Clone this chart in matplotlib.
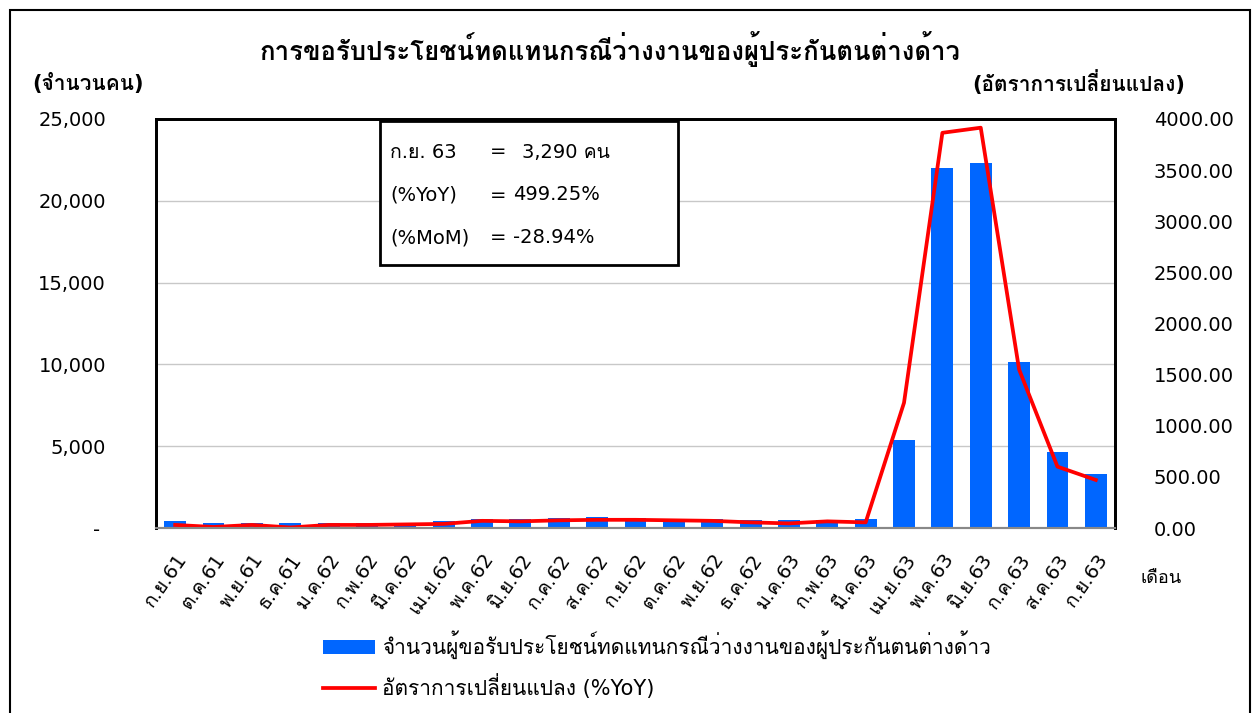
import numpy as np
import matplotlib
matplotlib.use("Agg")
import matplotlib.pyplot as plt
from matplotlib.patches import Rectangle

# Latin glyphs from DejaVu, Thai glyphs fall back to Loma
plt.rcParams['font.family'] = ['DejaVu Sans', 'Loma']

months = ['ก.ย.61', 'ต.ค.61', 'พ.ย.61', 'ธ.ค.61', 'ม.ค.62', 'ก.พ.62', 'มี.ค.62',
          'เม.ย.62', 'พ.ค.62', 'มิ.ย.62', 'ก.ค.62', 'ส.ค.62', 'ก.ย.62', 'ต.ค.62',
          'พ.ย.62', 'ธ.ค.62', 'ม.ค.63', 'ก.พ.63', 'มี.ค.63', 'เม.ย.63', 'พ.ค.63',
          'มิ.ย.63', 'ก.ค.63', 'ส.ค.63', 'ก.ย.63']
claimants = [420, 320, 320, 330, 320, 320, 330, 400, 520, 520, 600, 680, 600,
             540, 540, 470, 470, 470, 550, 5400, 22000, 22300, 10150, 4650, 3290]
yoy = [30, 10, 30, 5, 30, 30, 35, 40, 70, 65, 75, 80, 80, 75, 70, 55, 45, 65,
       55, 1225, 3865, 3915, 1550, 600, 470]
left_ticks = [0, 5000, 10000, 15000, 20000, 25000]
right_ticks = [0, 500, 1000, 1500, 2000, 2500, 3000, 3500, 4000]

fig = plt.figure(figsize=(12.58, 7.13), dpi=100)
ax = fig.add_axes([156/1258, 1-528/713, 959/1258, 409/713])
ax2 = ax.twinx()

x = np.arange(len(months))
bars = ax.bar(x, claimants, width=0.57, color='#0066FF', zorder=2,
              label='จำนวนผู้ขอรับประโยชน์ทดแทนกรณีว่างงานของผู้ประกันตนต่างด้าว')
line, = ax2.plot(x, yoy, color='#FF0000', lw=2.7, label='อัตราการเปลี่ยนแปลง (%YoY)')

ax.set_xlim(-0.5, len(months) - 0.5)
ax.set_ylim(0, 25000)
ax.set_yticks(left_ticks)
ax.set_yticklabels(['- '] + [f'{v:,}' for v in left_ticks[1:]], fontsize=14)
ax2.set_ylim(0, 4000)
ax2.set_yticks(right_ticks)
ax2.set_yticklabels([f'{v:.2f}' for v in right_ticks], fontsize=14)
ax.set_xticks(x)
ax.set_xticklabels(months, rotation=55, ha='right', rotation_mode='anchor', fontsize=14)
ax.yaxis.grid(True, color='#c8c8c8', lw=1, zorder=0)
ax.set_axisbelow(True)
ax.tick_params(axis='y', length=0, pad=36)
ax.tick_params(axis='x', length=0, pad=16)
ax2.tick_params(length=0, pad=28)
for a in (ax, ax2):
    for s in ('left', 'top', 'right'):
        a.spines[s].set_linewidth(2)
        a.spines[s].set_color('black')
    a.spines['bottom'].set_color('#888888')
    a.spines['bottom'].set_linewidth(1.5)

fig.text(610/1258, 1-49/713, 'การขอรับประโยชน์ทดแทนกรณีว่างงานของผู้ประกันตนต่างด้าว',
         ha='center', va='center', fontsize=18.5, fontweight='bold')
fig.text(32/1258, 1-83/713, '(จำนวนคน)', ha='left', va='center', fontsize=15, fontweight='bold')
fig.text(1185/1258, 1-83/713, '(อัตราการเปลี่ยนแปลง)', ha='right', va='center',
         fontsize=15, fontweight='bold')
fig.text(1140/1258, 1-578/713, 'เดือน', ha='left', va='center', fontsize=13)

# info box
fig.patches.append(Rectangle((380/1258, 1-265/713), 298/1258, 144/713, transform=fig.transFigure,
                             facecolor='white', edgecolor='black', lw=2, zorder=5))
info_label = ['ก.ย. 63', '(%YoY)', '(%MoM)']
info_value = ['3,290 คน', '499.25%', '-28.94%']
for i in range(3):
    yy = 1 - (152 + 43 * i) / 713
    fig.text(390/1258, yy, info_label[i], ha='left', va='center', fontsize=14, zorder=6)
    fig.text(490/1258, yy, '=', ha='left', va='center', fontsize=14, zorder=6)
    fig.text((522 if i == 0 else 513)/1258, yy, info_value[i], ha='left', va='center',
             fontsize=14, zorder=6)

fig.legend(handles=[bars, line], loc='upper left', bbox_to_anchor=(304/1258, 1-612/713),
           frameon=False, fontsize=15, handlelength=2.5, handleheight=0.7,
           handletextpad=0.35, labelspacing=0.7)

fig.patches.append(Rectangle((10/1258, -0.05), 1240/1258, 1.05-10/713, transform=fig.transFigure,
                             facecolor='none', edgecolor='black', lw=1.5))

fig.savefig('out.png', dpi=100)
